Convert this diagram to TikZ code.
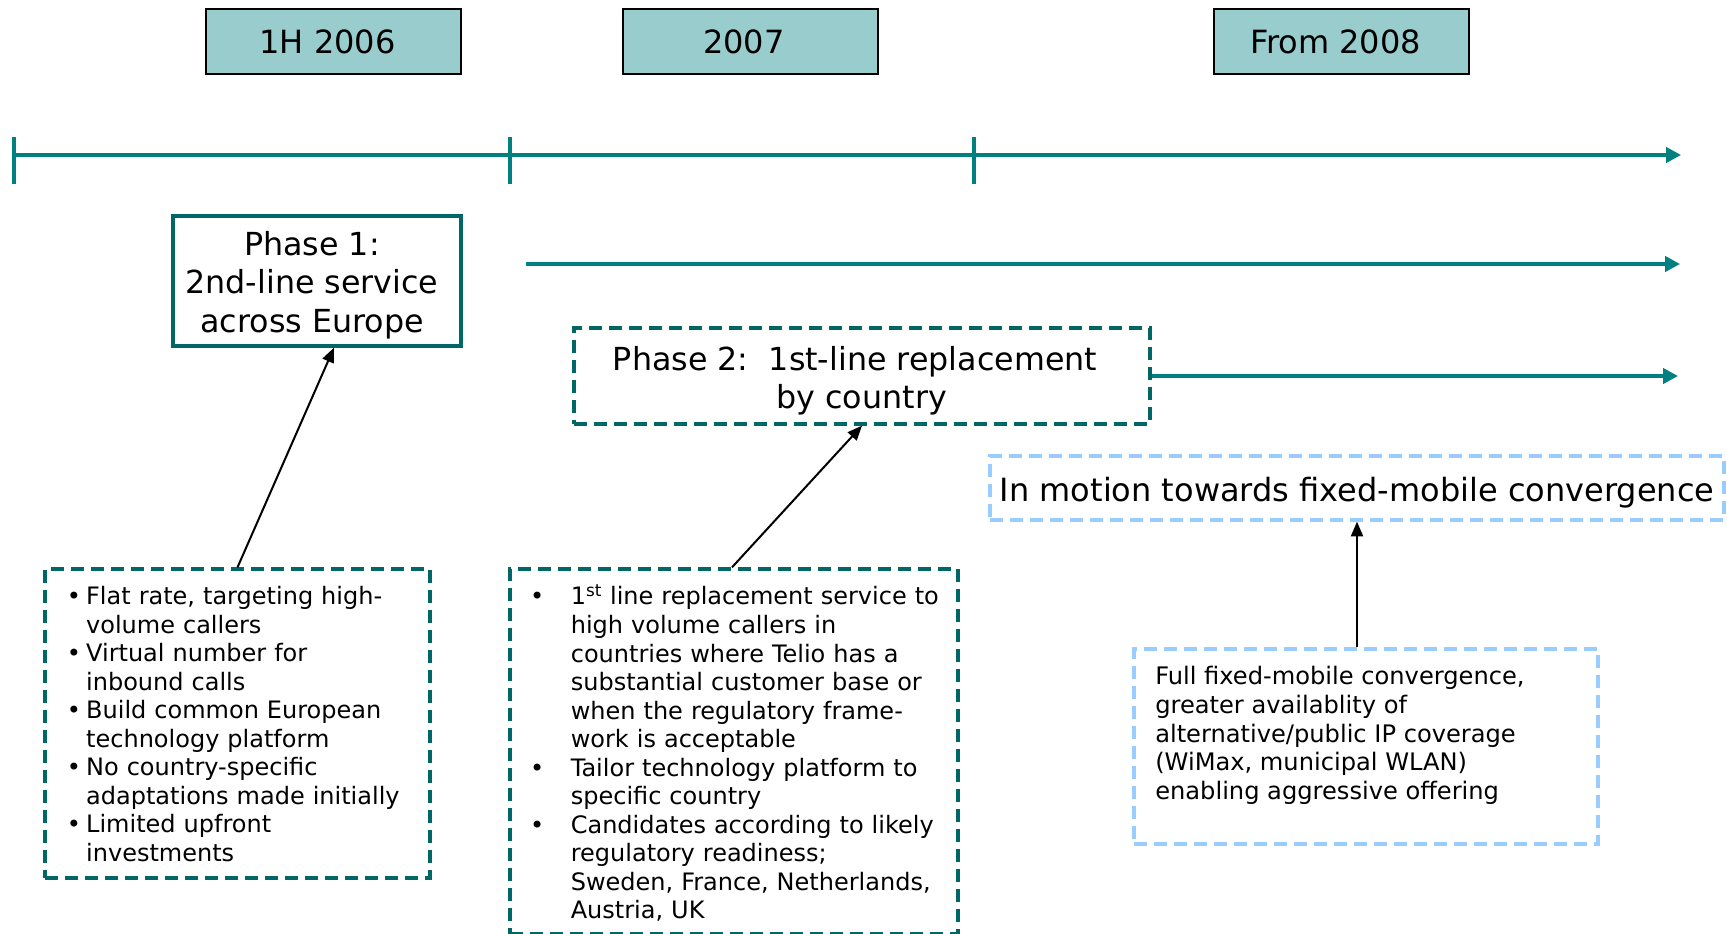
\documentclass[tikz,border=0pt]{standalone}
\usepackage{fontspec}
\setmainfont{DejaVu Sans}
\usetikzlibrary{arrows.meta}

\definecolor{tealline}{HTML}{008080}
\definecolor{darkteal}{HTML}{006666}
\definecolor{yearfill}{HTML}{99CCCC}
\definecolor{ltblue}{HTML}{99CCFF}

% bullet item with hanging indent: #1 = indent, #2 = text
\newcommand\bitem[2]{\par\hangindent=#1\hangafter=1\noindent\makebox[#1][l]{\textbullet}#2}
% heading label, set slightly left of centre
\newcommand\yearlabel[1]{\kern-9pt\raisebox{-1.3pt}{#1}}

\tikzset{
  yearbox/.style={draw=black, line width=1.5pt, fill=yearfill, minimum width=191.25pt,
    minimum height=48.75pt, inner sep=0pt, font=\fontsize{24}{29}\selectfont},
  timeline/.style={draw=tealline, line width=2.5pt},
  tealarrow/.style={timeline, -{Triangle[length=11.25pt,width=11.5pt]}},
  blackarrow/.style={draw=black, line width=1.5pt, -{Triangle[length=11pt,width=9pt]}},
  phasebox/.style={draw=darkteal, line width=2.5pt, inner sep=0pt},
  phasetext/.style={inner sep=0pt, align=center, font=\fontsize{23.8}{28.7}\selectfont},
  tealdash/.style={draw=darkteal, line width=2.5pt, dash pattern=on 9.75pt off 5.25pt, inner sep=0pt},
  bluedash/.style={draw=ltblue, line width=2.5pt, dash pattern=on 9.75pt off 5.25pt, inner sep=0pt},
  bodytext/.style={inner sep=0pt, align=left, font=\fontsize{18}{21.4}\selectfont},
}

\begin{document}
\begin{tikzpicture}[x=0.75pt,y=-0.75pt]
\useasboundingbox (0,0) rectangle (1727,934);

% period headings
\node[yearbox] (y1) at (333.5,41.5) {\yearlabel{1H 2006}};
\node[yearbox] (y2) at (750,41.5) {\yearlabel{2007}};
\node[yearbox] (y3) at (1341.5,41.5) {\yearlabel{From 2008}};

% main time axis with ticks
\coordinate (t0) at (14,155);
\coordinate (t1) at (510,155);
\coordinate (t2) at (974,155);
\coordinate (tend) at (1681,155);
\draw[tealarrow] (t0) -- (tend);
\foreach \p in {t0,t1,t2}
  \draw[timeline] ([yshift=13.5pt]\p) -- ([yshift=-21.75pt]\p);

% phase 1
\node[phasebox, minimum width=216pt, minimum height=97.5pt] (p1) at (317,281) {};
\node[phasetext] (p1t) at (312,285) {Phase 1:\\2nd-line service\\across Europe};
\coordinate (a2s) at (526,264);
\coordinate (a2e) at (1680,264);
\draw[tealarrow] (a2s) -- (a2e);

% phase 2
\node[tealdash, minimum width=432pt, minimum height=72pt] (p2) at (862,376) {};
\node[phasetext] (p2t) at (855,380.5) {Phase 2:\ \ 1st-line replacement\\\hspace*{10pt}by country};
\coordinate (a3e) at (1678,376);
\draw[tealarrow] (p2.east) -- (a3e);

% convergence
\node[bluedash, minimum width=550.5pt, minimum height=48pt] (im) at (1357,488) {};
\node[inner sep=0pt, font=\fontsize{24}{29}\selectfont] (imt) at (1357,492.7)
  {In motion towards fixed-mobile convergence};

% detail boxes
\node[tealdash, minimum width=288.75pt, minimum height=231.75pt] (lb) at (237.5,723.5) {};
\node[bodytext, text width=280pt, anchor=west] (lt) at (66.7,719) {%
  \bitem{14.4pt}{Flat rate, targeting high-\newline volume callers}%
  \bitem{14.4pt}{Virtual number for\newline inbound calls}%
  \bitem{14.4pt}{Build common European\newline technology platform}%
  \bitem{14.4pt}{No country-specific\newline adaptations made initially}%
  \bitem{14.4pt}{Limited upfront\newline investments}\par};

\node[tealdash, minimum width=336pt, minimum height=273.75pt] (mb) at (734,751.5) {};
\node[bodytext, text width=330pt, anchor=west] (mt) at (529.8,749) {%
  \bitem{30.55pt}{1\textsuperscript{st} line replacement service to\newline high volume callers in\newline
    countries where Telio has a\newline substantial customer base or\newline
    when the regulatory frame-\newline work is acceptable}%
  \bitem{30.55pt}{Tailor technology platform to\newline specific country}%
  \bitem{30.55pt}{Candidates according to likely\newline regulatory readiness;\newline
    Sweden, France, Netherlands,\newline Austria, UK}\par};

\node[bluedash, minimum width=348pt, minimum height=146.25pt] (rb) at (1366,746.5) {};
\node[inner sep=0pt, align=left, anchor=west, font=\fontsize{18.1}{21.5}\selectfont] (rt) at (1155,735.5)
  {Full fixed-mobile convergence,\\greater availablity of\\alternative/public IP coverage\\
   (WiMax, municipal WLAN)\\enabling aggressive offering};

% links from details to phases
\draw[blackarrow] (lb.north) -- ([xshift=12.75pt]p1.south);
\draw[blackarrow] ([xshift=-1.5pt]mb.north) -- (p2.south);
\draw[blackarrow] (im.south |- rb.north) -- (im.south);
\end{tikzpicture}
\end{document}
